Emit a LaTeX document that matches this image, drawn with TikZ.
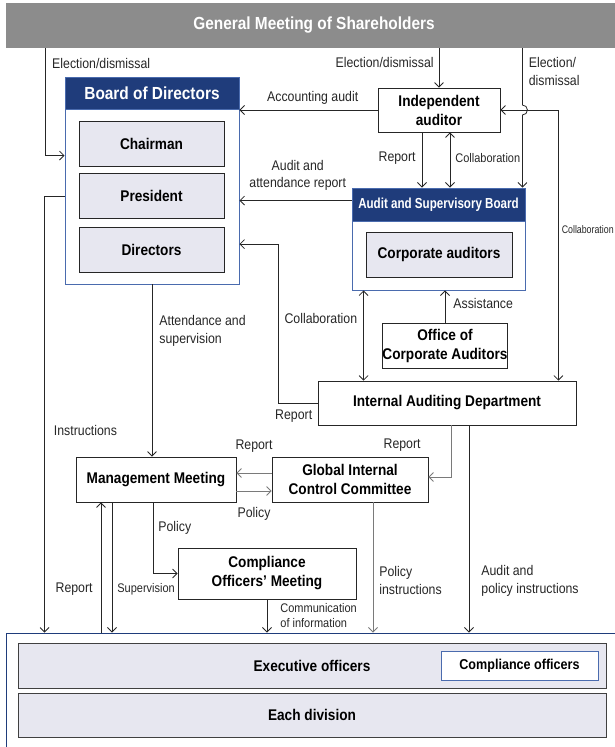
\documentclass[tikz,border=0pt]{standalone}
\usepackage{fontspec}
\setmainfont{Liberation Sans}[FakeStretch=0.88]
\newfontfamily\narrowfnt{Liberation Sans}[FakeStretch=0.8]
\usepackage{tikz}
\usetikzlibrary{positioning, calc, arrows.meta}
\definecolor{hdblue}{HTML}{1F3C7B}
\definecolor{bordblue}{HTML}{4A6BAE}
\definecolor{boxfill}{HTML}{E7E7F0}
\definecolor{bannergray}{HTML}{8C8C8C}
\definecolor{linegray}{HTML}{7A7A7A}
\definecolor{linedark}{HTML}{262626}
\newcommand{\titlefnt}{\bfseries\fontsize{17.5}{20}\selectfont}
\newcommand{\boxfnt}{\bfseries\fontsize{15.5}{19}\selectfont}
\newcommand{\lblfnt}{\fontsize{14}{17.5}\selectfont}
\newcommand{\smallfnt}{\fontsize{12.5}{15.5}\selectfont}
\tikzstyle{banner} = [rectangle, fill=bannergray, text=white, font=\titlefnt, inner sep=0pt, minimum width=616pt, minimum height=45pt]
\tikzstyle{frame} = [rectangle, draw=bordblue, line width=0.9pt, fill=white, inner sep=0pt]
\tikzstyle{header} = [rectangle, draw=bordblue, line width=0.9pt, fill=hdblue, text=white, font=\titlefnt, inner sep=0pt]
\tikzstyle{unit} = [rectangle, draw=linedark, line width=0.8pt, fill=boxfill, text=black, font=\boxfnt, align=center, inner sep=0pt]
\tikzstyle{plainbox} = [unit, fill=white]
\tikzstyle{arrow} = [draw=linedark, line width=0.8pt, ->, >={Straight Barb[length=4.5pt,width=9pt]}]
\tikzstyle{twoway} = [arrow, <->]
\tikzstyle{grayarrow} = [arrow, draw=linegray]
\tikzstyle{lbl} = [font=\lblfnt, inner sep=0pt, align=left, text=linedark]
\tikzstyle{slbl} = [lbl, font=\smallfnt]

\begin{document}
\begin{tikzpicture}[x=1pt, y=-1pt]
\useasboundingbox (0,0) rectangle (614,747);

% shareholders and board
\node (banner) [banner] at (314,25.5) {General Meeting of Shareholders};
\node (bod) [frame, minimum width=174pt, minimum height=207pt] at (152,180.5) {};
\node (bodhead) [header, minimum width=174pt, minimum height=32pt] at (152,93) {Board of Directors};
\node (chair) [unit, minimum width=145pt, minimum height=45pt] at (151.5,143.5) {Chairman};
\node (pres) [unit, minimum width=145pt, minimum height=45pt, below=7pt of chair] {President};
\node (dirs) [unit, minimum width=145pt, minimum height=45pt, below=8pt of pres] {Directors};

% auditors
\node (auditor) [plainbox, minimum width=122pt, minimum height=44pt] at (439,110) {Independent\\auditor};
\node (asb) [frame, minimum width=173pt, minimum height=102pt] at (438.5,239) {};
\node (asbhead) [header, font=\narrowfnt\bfseries\fontsize{14.5}{17}\selectfont, minimum width=173pt, minimum height=33pt] at (438.5,204.5) {Audit and Supervisory Board};
\node (corp) [unit, minimum width=146pt, minimum height=45pt] at (439,254.5) {Corporate auditors};
\node (office) [plainbox, minimum width=122pt, minimum height=45pt] at (445,345.5) {Office of\\Corporate Auditors};
\node (iad) [plainbox, minimum width=258pt, minimum height=44pt] at (447,403) {Internal Auditing Department};

% management
\node (mm) [plainbox, minimum width=160pt, minimum height=45pt] at (156,479.5) {Management Meeting};
\node (gicc) [plainbox, minimum width=156pt, minimum height=45pt] at (350,479.5) {Global Internal\\Control Committee};
\node (com) [plainbox, minimum width=178pt, minimum height=51pt] at (267,573.5) {Compliance\\Officers’ Meeting};

% executives
\node (execbox) [frame, draw=hdblue, minimum width=624pt, minimum height=127pt] at (318,696.5) {};
\node (exec) [unit, draw=black!75, minimum width=588pt, minimum height=45pt] at (312,665.5) {Executive officers};
\node (compl) [plainbox, draw=bordblue, font=\bfseries\fontsize{14.3}{17}\selectfont, minimum width=157pt, minimum height=29pt] at (519.5,665.5) {Compliance officers};
\node (div) [unit, draw=black!75, minimum width=588pt, minimum height=44pt] at (312,715) {Each division};

% election
\draw [arrow] ([xshift=40pt]banner.south west) |- node[lbl, anchor=west, pos=0.07, xshift=6pt]{Election/dismissal} ([yshift=-79pt]bod.north west);
\draw [arrow] (banner.south -| auditor.north) -- node[lbl, anchor=east, pos=0.375, xshift=-5pt]{Election/dismissal} (auditor.north);
\draw [arrow] ($(asb.north east |- banner.south)+(-3,0)$) -- node[lbl, anchor=west, pos=0.41, xshift=6pt]{Election/\\dismissal} ($(asb.north east |- auditor.east)+(-3,-5)$) arc[start angle=90, end angle=-90, radius=5pt] -- ($(asb.north east)+(-3,0)$);

% audit lines
\draw [arrow] (auditor.west) -- node[lbl, pos=0.47, yshift=12pt]{Accounting audit} (auditor.west -| bod.east);
\draw [twoway] (auditor.east) -| node[lbl, font=\narrowfnt\fontsize{11}{13}\selectfont, anchor=west, pos=0.72, xshift=3pt]{Collaboration} ($(iad.north east)+(-18,0)$);
\draw [arrow] ($(auditor.south)+(-17,0)$) -- node[lbl, anchor=east, pos=0.46, xshift=-6pt]{Report} ($(asb.north -| auditor.south)+(-17,0)$);
\draw [twoway] ($(auditor.south)+(11,0)$) -- node[slbl, anchor=west, pos=0.46, xshift=5pt]{Collaboration} ($(asb.north -| auditor.south)+(11,0)$);
\draw [arrow] ($(asb.north west)+(0,13)$) -- node[lbl, align=center, pos=0.48, yshift=25pt]{Audit and\\attendance report} ($(asb.north west -| bod.east)+(0,13)$);
\draw [arrow] (iad.west) -| node[lbl, anchor=east, pos=0, xshift=-5pt, yshift=-13pt]{Report} ($(dirs.east -| bod.east)+(39,-6)$) -- ($(dirs.east -| bod.east)+(0,-6)$);
\draw [twoway] ($(asb.south west)+(12,0)$) -- node[lbl, anchor=east, pos=0.31, xshift=-6pt]{Collaboration} ($(iad.north -| asb.south west)+(12,0)$);
\draw [arrow] (office.north) -- node[lbl, anchor=west, pos=0.6, xshift=8pt]{Assistance} (office.north |- asb.south);

% board to management
\draw [arrow] (bod.south) -- node[lbl, anchor=west, pos=0.27, xshift=7pt]{Attendance and\\supervision} (bod.south |- mm.north);
\draw [arrow] (pres.west -| bod.west) -| node[lbl, anchor=west, pos=0.768, xshift=9pt]{Instructions} ($(execbox.north west)+(39,0)$);
\draw [grayarrow] ($(gicc.west)+(0,-6.5)$) -- node[lbl, yshift=27pt]{Report} ($(gicc.west -| mm.east)+(0,-6.5)$);
\draw [grayarrow] ($(mm.east)+(0,11.5)$) -- node[lbl, yshift=-23pt]{Policy} ($(mm.east -| gicc.west)+(0,11.5)$);
\draw [grayarrow] ($(iad.south)+(4,0)$) |- node[lbl, anchor=east, pos=0.19, xshift=-30pt]{Report} ($(gicc.east)+(0,-2.5)$);
\draw [arrow] ($(iad.south)+(22,0)$) -- node[lbl, anchor=west, pos=0.75, xshift=12pt]{Audit and\\policy instructions} ($(execbox.north -| iad.south)+(22,0)$);
\draw [arrow] ($(mm.south)+(-3,0)$) |- node[lbl, anchor=west, pos=0.18, xshift=5pt]{Policy} (com.west);

% to executives
\draw [arrow] ($(execbox.north -| mm.south)+(-55,0)$) -- node[lbl, anchor=east, pos=0.33, xshift=-8pt]{Report} ($(mm.south)+(-55,0)$);
\draw [arrow] ($(mm.south)+(-44,0)$) -- node[slbl, anchor=west, pos=0.67, xshift=5pt]{Supervision} ($(execbox.north -| mm.south)+(-44,0)$);
\draw [arrow] (com.south) -- node[slbl, anchor=west, pos=0.49, xshift=13pt]{Communication\\of information} (com.south |- execbox.north);
\draw [grayarrow] ($(gicc.south)+(23,0)$) -- node[lbl, anchor=west, pos=0.6, xshift=6pt]{Policy\\instructions} ($(execbox.north -| gicc.south)+(23,0)$);
\end{tikzpicture}
\end{document}
